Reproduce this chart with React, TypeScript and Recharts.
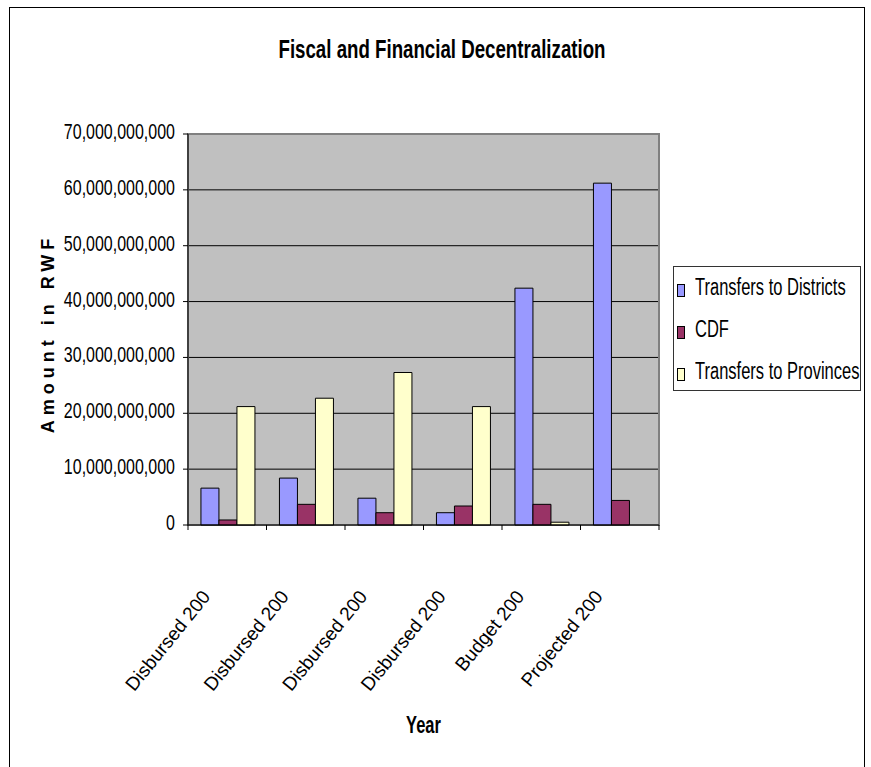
import React from "react";
import {
  BarChart,
  Bar,
  XAxis,
  YAxis,
  CartesianGrid,
  Legend,
  ReferenceArea,
  Label,
} from "recharts";

const FONT = '"Liberation Sans", Arial, sans-serif';

const categories = [
  "Disbursed 200",
  "Disbursed 200",
  "Disbursed 200",
  "Disbursed 200",
  "Budget 200",
  "Projected 200",
];
const transfersToDistricts = [6.6e9, 8.4e9, 4.8e9, 2.2e9, 42.4e9, 61.2e9];
const cdf = [0.9e9, 3.7e9, 2.2e9, 3.4e9, 3.7e9, 4.4e9];
const transfersToProvinces = [21.2e9, 22.7e9, 27.3e9, 21.2e9, 0.5e9, 0];
const yTicks = [0, 10e9, 20e9, 30e9, 40e9, 50e9, 60e9, 70e9];

const SERIES = [
  { key: "districts", name: "Transfers to Districts", color: "#9999FF" },
  { key: "cdf", name: "CDF", color: "#993366" },
  { key: "provinces", name: "Transfers to Provinces", color: "#FFFFCC" },
];

const data = categories.map((c, i) => ({
  year: c,
  districts: transfersToDistricts[i],
  cdf: cdf[i],
  provinces: transfersToProvinces[i],
}));

// the original picture is stretched vertically, so text gets a scaleY
function Txt({ x, y, sy = 1.33, rotate = 0, size = 16, bold = false, anchor = "start", children }: any) {
  return (
    <text
      transform={`translate(${x},${y}) scale(1,${sy}) rotate(${rotate})`}
      textAnchor={anchor}
      fontFamily={FONT}
      fontSize={size}
      fontWeight={bold ? "bold" : "normal"}
      fill="#000"
    >
      {children}
    </text>
  );
}

function ValueTick({ x, y, payload }: any) {
  return (
    <Txt x={x} y={y + 5} anchor="end" size={16}>
      {payload.value.toLocaleString("en-US")}
    </Txt>
  );
}

// excel style: tick marks between the categories, slanted labels
function YearTick(props: any) {
  const { x, y, payload, index, visibleTicksCount } = props;
  const half = payload.offset ?? 39;
  const last = index === (visibleTicksCount ?? categories.length) - 1;
  return (
    <g>
      <line x1={x - half} x2={x - half} y1={y - 8} y2={y - 3} stroke="#000" />
      {last && <line x1={x + half} x2={x + half} y1={y - 8} y2={y - 3} stroke="#000" />}
      <Txt x={x - 16} y={y + 64} rotate={-51} sy={1} anchor="end" size={19}>
        {payload.value}
      </Txt>
    </g>
  );
}

function LegendBox() {
  return (
    <div
      style={{
        width: 188,
        height: 125,
        border: "1px solid #333",
        background: "#fff",
        fontFamily: FONT,
        fontSize: 16.5,
        color: "#000",
        boxSizing: "border-box",
        position: "relative",
      }}
    >
      {SERIES.map((s, i) => (
        <div key={s.key} style={{ position: "absolute", left: 3, top: 13 + i * 42, height: 17, whiteSpace: "nowrap" }}>
          <span
            style={{
              position: "absolute",
              left: 0,
              top: 4,
              width: 8,
              height: 13,
              border: "1.5px solid #000",
              background: s.color,
              boxSizing: "border-box",
            }}
          />
          <span
            style={{
              position: "absolute",
              left: 18,
              top: 0,
              lineHeight: "17px",
              transform: "scaleY(1.5)",
              transformOrigin: "0 70%",
            }}
          >
            {s.name}
          </span>
        </div>
      ))}
    </div>
  );
}

export default function App() {
  return (
    <div style={{ position: "absolute", left: 0, top: 0, width: 871, height: 767, background: "#fff", overflow: "hidden" }}>
      <div
        style={{
          position: "absolute",
          left: 9,
          top: 7,
          width: 856,
          height: 780,
          border: "1px solid #000",
          boxSizing: "border-box",
        }}
      />
      <BarChart
        width={871}
        height={767}
        data={data}
        margin={{ top: 134, right: 24, bottom: 0, left: 0 }}
        barCategoryGap="16.5%"
        barGap={0}
        style={{ position: "absolute", left: 0, top: 0 }}
      >
        <CartesianGrid vertical={false} stroke="#000" fill="#C0C0C0" fillOpacity={1} />
        <ReferenceArea y1={0} y2={70e9} fill="none" stroke="#808080" strokeWidth={2} ifOverflow="visible" />
        <XAxis
          dataKey="year"
          height={242}
          interval={0}
          tickLine={false}
          axisLine={{ stroke: "#000" }}
          tick={<YearTick />}
        >
          <Label
            content={({ viewBox }: any) => (
              <Txt x={viewBox.x + viewBox.width / 2} y={viewBox.y + 208} sy={1.5} anchor="middle" size={16.5} bold>
                Year
              </Txt>
            )}
          />
        </XAxis>
        <YAxis
          width={188}
          domain={[0, 70e9]}
          ticks={yTicks}
          interval={0}
          tickSize={5}
          tickMargin={8}
          axisLine={{ stroke: "#000" }}
          tickLine={{ stroke: "#000" }}
          tick={<ValueTick />}
        >
          <Label
            content={({ viewBox }: any) => (
              <text
                transform={`translate(${viewBox.x + 54},${viewBox.y + viewBox.height / 2 + 4}) rotate(-90)`}
                textAnchor="middle"
                fontFamily={FONT}
                fontWeight="bold"
                fontSize={18}
                letterSpacing={5}
                fill="#000"
              >
                Amount in RWF
              </text>
            )}
          />
        </YAxis>
        <Legend
          layout="vertical"
          align="right"
          verticalAlign="middle"
          content={<LegendBox />}
          wrapperStyle={{ left: 673, top: 266, width: 188, height: 125 }}
        />
        {SERIES.map((s) => (
          <Bar
            key={s.key}
            dataKey={s.key}
            name={s.name}
            fill={s.color}
            stroke="#000"
            strokeWidth={1}
            isAnimationActive={false}
          />
        ))}
      </BarChart>
      <svg width={871} height={100} style={{ position: "absolute", left: 0, top: 0, pointerEvents: "none" }}>
        <Txt x={442} y={58} sy={1.37} anchor="middle" size={18.7} bold>
          Fiscal and Financial Decentralization
        </Txt>
      </svg>
    </div>
  );
}
